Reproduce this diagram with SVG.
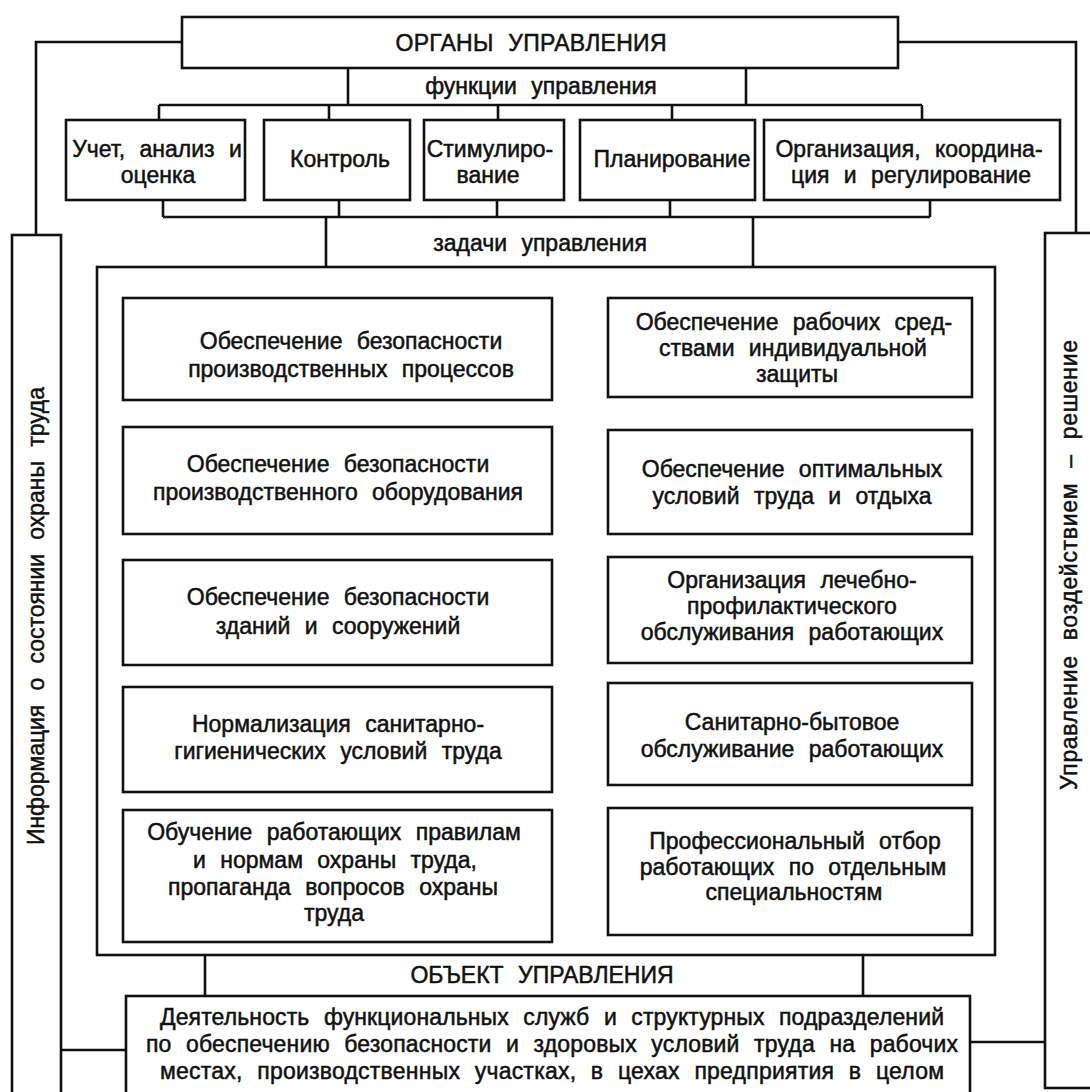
<svg xmlns="http://www.w3.org/2000/svg" width="1090" height="1092" viewBox="0 0 1090 1092">
<style>
.b{fill:#fff;stroke:#111;stroke-width:2.6}
.c{fill:none;stroke:#111;stroke-width:2.6}
text{font-family:"Liberation Sans",Arial,sans-serif;font-size:23px;fill:#111;stroke:#111;stroke-width:0.5px;text-anchor:middle;word-spacing:8px}
</style>
<rect width="1090" height="1092" fill="#fff"/>
<g id="connectors" class="c">
<path d="M182,42H36V235M898,42H1076V233"/>
<path d="M348,68V105M746,68V105M159,105H922M159,105V120M329,105V120M498,105V120M672,105V120M922,105V120"/>
<path d="M163,200V217M339,200V217M497,200V217M670,200V217M930,200V217M163,217H930"/>
<path d="M326,217V267M753,217V267"/>
<path d="M97,350H123M97,477H123M97,609H123M97,738H123M97,882H123"/>
<path d="M972,342H995M972,478H995M972,607H995M972,735H995M972,877H995"/>
<path d="M205,955V996M863,955V996"/>
<path d="M61,1050H126M970,1042H1045"/>
</g>
<g id="organy">
<rect class="b" x="182" y="17" width="716" height="51"/>
<text x="531" y="51" textLength="271" lengthAdjust="spacing">ОРГАНЫ УПРАВЛЕНИЯ</text>
</g>
<g id="label-functions"><text x="541" y="94">функции управления</text></g>
<g id="f1"><rect class="b" x="66" y="120" width="179" height="80"/><text x="157" y="157">Учет, анализ и</text><text x="158" y="183">оценка</text></g>
<g id="f2"><rect class="b" x="264" y="120" width="146" height="80"/><text x="340" y="167">Контроль</text></g>
<g id="f3"><rect class="b" x="424" y="120" width="140" height="80"/><text x="490" y="157">Стимулиро-</text><text x="488" y="183">вание</text></g>
<g id="f4"><rect class="b" x="580" y="120" width="175" height="80"/><text x="672" y="167">Планирование</text></g>
<g id="f5"><rect class="b" x="764" y="120" width="296" height="80"/><text x="909" y="157">Организация, координа-</text><text x="911" y="183">ция и регулирование</text></g>
<g id="label-tasks"><text x="540" y="251">задачи управления</text></g>
<g id="tasks"><rect class="b" x="97" y="267" width="898" height="688"/></g>
<g id="l1"><rect class="b" x="123" y="298" width="429" height="102"/><text x="351" y="349">Обеспечение безопасности</text><text x="351" y="377">производственных процессов</text></g>
<g id="l2"><rect class="b" x="123" y="427" width="429" height="107"/><text x="338" y="472">Обеспечение безопасности</text><text x="338" y="500">производственного оборудования</text></g>
<g id="l3"><rect class="b" x="123" y="560" width="429" height="105"/><text x="338" y="605">Обеспечение безопасности</text><text x="338" y="634">зданий и сооружений</text></g>
<g id="l4"><rect class="b" x="123" y="687" width="429" height="105"/><text x="338" y="732">Нормализация санитарно-</text><text x="338" y="759">гигиенических условий труда</text></g>
<g id="l5"><rect class="b" x="123" y="810" width="429" height="132"/><text x="334" y="840">Обучение работающих правилам</text><text x="335" y="868">и нормам охраны труда,</text><text x="333" y="895">пропаганда вопросов охраны</text><text x="334" y="921">труда</text></g>
<g id="r1"><rect class="b" x="608" y="298" width="364" height="99"/><text x="794" y="330">Обеспечение рабочих сред-</text><text x="793" y="356">ствами индивидуальной</text><text x="797" y="382">защиты</text></g>
<g id="r2"><rect class="b" x="608" y="430" width="364" height="104"/><text x="792" y="477">Обеспечение оптимальных</text><text x="792" y="504">условий труда и отдыха</text></g>
<g id="r3"><rect class="b" x="608" y="557" width="364" height="106"/><text x="792" y="588">Организация лечебно-</text><text x="792" y="614">профилактического</text><text x="792" y="640">обслуживания работающих</text></g>
<g id="r4"><rect class="b" x="608" y="683" width="364" height="102"/><text x="792" y="730">Санитарно-бытовое</text><text x="792" y="757">обслуживание работающих</text></g>
<g id="r5"><rect class="b" x="608" y="808" width="364" height="127"/><text x="795" y="849">Профессиональный отбор</text><text x="793" y="875">работающих по отдельным</text><text x="794" y="900">специальностям</text></g>
<g id="label-object"><text x="542" y="983">ОБЪЕКТ УПРАВЛЕНИЯ</text></g>
<g id="object">
<rect class="b" x="126" y="996" width="844" height="110"/>
<text x="552" y="1025" textLength="784" lengthAdjust="spacing">Деятельность функциональных служб и структурных подразделений</text>
<text x="552" y="1052" textLength="812" lengthAdjust="spacing">по обеспечению безопасности и здоровых условий труда на рабочих</text>
<text x="552" y="1079" textLength="784" lengthAdjust="spacing">местах, производственных участках, в цехах предприятия в целом</text>
</g>
<g id="info">
<rect class="b" x="12" y="235" width="49" height="870"/>
<text transform="translate(44,616) rotate(-90)" textLength="458" lengthAdjust="spacing">Информация о состоянии охраны труда</text>
</g>
<g id="control">
<rect class="b" x="1045" y="233" width="62" height="855"/>
<text transform="translate(1077,565) rotate(-90)" textLength="450" lengthAdjust="spacing">Управление воздействием  –  решение</text>
</g>
</svg>
